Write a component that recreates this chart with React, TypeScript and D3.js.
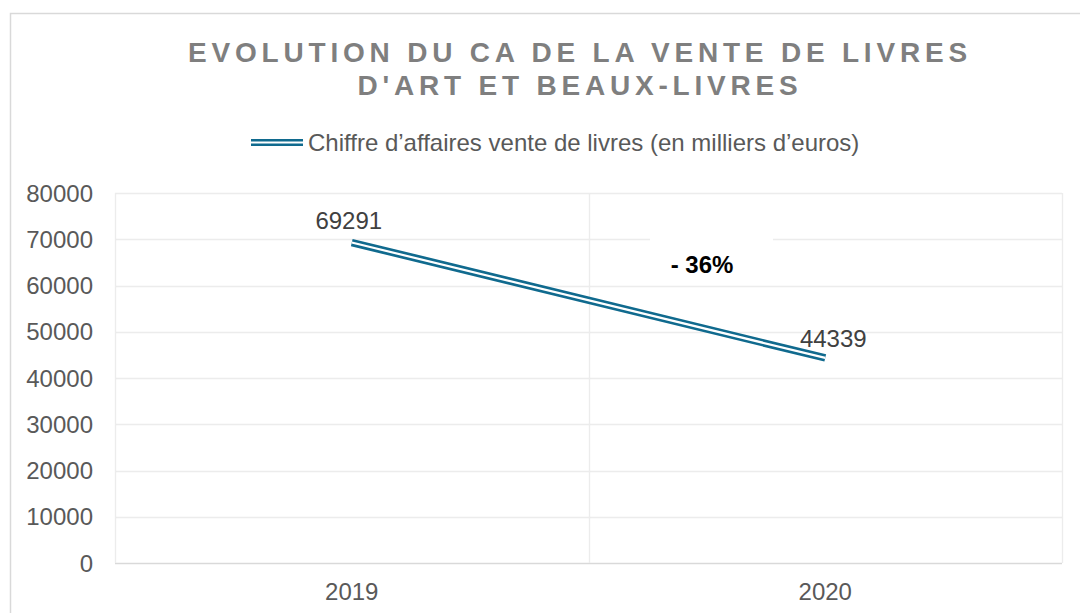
import React from 'react';
import * as d3 from 'd3';

// data
const years = ['2019', '2020'];
const revenue = [69291, 44339];
const yTicks = [0, 10000, 20000, 30000, 40000, 50000, 60000, 70000, 80000];
const titleLines = ['EVOLUTION DU CA DE LA VENTE DE LIVRES', "D'ART ET BEAUX-LIVRES"];
const legendLabel = 'Chiffre d’affaires vente de livres (en milliers d’euros)';
const changeLabel = '- 36%';

const W = 1080;
const H = 613;
const plot = { left: 115, right: 1062, top: 193, bottom: 563 };
const lineColor = '#106a8e';
const font = '"Liberation Sans", Arial, sans-serif';

const App = () => {
  const x = d3.scaleBand().domain(years).range([plot.left, plot.right]).padding(0);
  const y = d3.scaleLinear().domain([0, 80000]).range([plot.bottom, plot.top]);

  const pts = years.map((yr, i) => ({ yr, v: revenue[i] }));
  const line = d3
    .line<{ yr: string; v: number }>()
    .x((d) => (x(d.yr) as number) + x.bandwidth() / 2)
    .y((d) => y(d.v));
  const path = line(pts) || '';

  // vertical grid at band edges
  const vLines = [plot.left, ...years.map((yr) => (x(yr) as number) + x.bandwidth())];

  return (
    <svg
      width={W}
      height={H}
      style={{ position: 'absolute', left: 0, top: 0, background: '#fff' }}
      fontFamily={font}
    >
      <rect x={10.5} y={13.5} width={W + 20} height={H + 20} fill="#fff" stroke="#d9d9d9" strokeWidth={1.5} />

      {/* title */}
      {titleLines.map((t, i) => (
        <text
          key={t}
          x={580}
          y={62 + i * 33}
          textAnchor="middle"
          fontSize={28}
          fontWeight="bold"
          fill="#7f7f7f"
          letterSpacing={4.8}
        >
          {t}
        </text>
      ))}

      {/* legend */}
      <g>
        <line x1={251} x2={303} y1={142.5} y2={142.5} stroke={lineColor} strokeWidth={7} />
        <line x1={251} x2={303} y1={142.5} y2={142.5} stroke="#fff" strokeWidth={2} />
        <text x={308} y={151} fontSize={24} fill="#595959">
          {legendLabel}
        </text>
      </g>

      {/* grid */}
      {yTicks.map((t) => (
        <line
          key={t}
          x1={plot.left}
          x2={plot.right}
          y1={Math.round(y(t)) + 0.5}
          y2={Math.round(y(t)) + 0.5}
          stroke={t === 0 ? '#d9d9d9' : '#ececec'}
          strokeWidth={1.3}
        />
      ))}
      {vLines.map((vx) => (
        <line
          key={vx}
          x1={Math.round(vx) + 0.5}
          x2={Math.round(vx) + 0.5}
          y1={plot.top}
          y2={plot.bottom}
          stroke="#ececec"
          strokeWidth={1.3}
        />
      ))}

      {/* y axis labels */}
      {yTicks.map((t) => (
        <text key={t} x={93} y={y(t) + 8.5} textAnchor="end" fontSize={24} fill="#595959">
          {t}
        </text>
      ))}

      {/* x axis labels */}
      {years.map((yr) => (
        <text
          key={yr}
          x={(x(yr) as number) + x.bandwidth() / 2}
          y={600}
          textAnchor="middle"
          fontSize={24}
          fill="#595959"
        >
          {yr}
        </text>
      ))}

      {/* change annotation with white box */}
      <rect x={650} y={232} width={123} height={44} fill="#fff" />
      <text x={702} y={273} textAnchor="middle" fontSize={24} fontWeight="bold" fill="#000">
        {changeLabel}
      </text>

      {/* double line */}
      <path d={path} fill="none" stroke={lineColor} strokeWidth={7.5} />
      <path d={path} fill="none" stroke="#fff" strokeWidth={2.2} />

      {/* data labels */}
      {pts.map((d, i) => (
        <text
          key={d.yr}
          x={(x(d.yr) as number) + x.bandwidth() / 2 + (i === 0 ? -3 : 8)}
          y={i === 0 ? 229 : 347}
          textAnchor="middle"
          fontSize={24}
          fill="#404040"
        >
          {d.v}
        </text>
      ))}
    </svg>
  );
};

export default App;
